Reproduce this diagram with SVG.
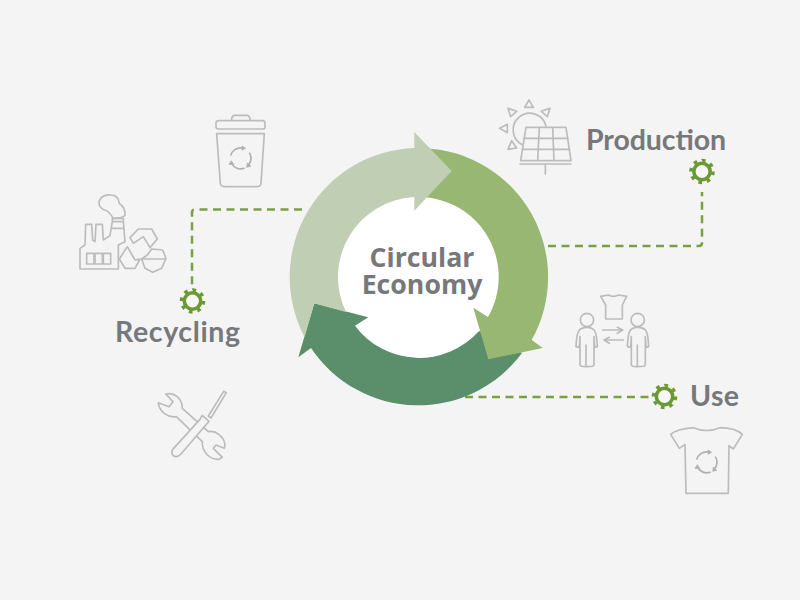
<svg xmlns="http://www.w3.org/2000/svg" xmlns:xlink="http://www.w3.org/1999/xlink" width="800" height="600" viewBox="0 0 800 600">
<style>
.lbl{font-family:"Lato","Open Sans","Liberation Sans",sans-serif;font-weight:700;font-size:28.500px;fill:#77787b}
.ctr{font-family:"Open Sans","Liberation Sans",sans-serif;font-weight:700;font-size:26.700px;fill:#77787b;text-anchor:middle}
.dash{fill:none;stroke:#7a9f45;stroke-width:2.5;stroke-dasharray:8 5.5}
.ic{fill:none;stroke:#bcbcbc;stroke-width:5;stroke-linejoin:round;stroke-linecap:round}
.ic2{fill:#f4f4f4;stroke:#bcbcbc;stroke-width:5;stroke-linejoin:round;stroke-linecap:round}
</style>
<defs>
<g id="gear">
<circle r="8.2" fill="#f6f6f4" stroke="#6b9a35" stroke-width="3.6"/>
<circle r="11" fill="none" stroke="#6b9a35" stroke-width="3.6" pathLength="8" stroke-dasharray="0.42 0.58"/>
</g>
<g id="rec" fill="none" stroke="#b0b0b0" stroke-width="5">
<path d="M-30 -8A31 31 0 0 1 4 -31M26 -17A31 31 0 0 1 22 22M12 29A31 31 0 0 1 -28 14"/>
<path d="M4 -37L15 -30L4 -24ZM31 24L18 27L20 14ZM-35 18L-28 7L-20 19Z" fill="#b0b0b0" stroke-width="2"/>
</g>
</defs>
<rect width="800" height="600" fill="#f4f4f4"/>
<g id="connectors">
<path class="dash" d="M302 209.5H195Q192 209.5 192 212.500V287"/>
<path class="dash" d="M548 246H699Q702 246 702 243V192"/>
<path class="dash" d="M465 397H651"/>
</g>
<g id="cycle">
<circle id="hub" cx="418.500" cy="277" r="85" fill="#ffffff"/>
<path id="arrow-use" fill="#5b8f6b" d="M522 353L505 345L479 331A80 80 0 0 1 355 325.700L368.300 317.300L314.300 303.300L298.300 357.300L311 348A129 129 0 0 0 522 353Z"/>
<path id="arrow-production" fill="#97b772" d="M425 148.200A129 129 0 0 1 531.700 340L542.700 348L488.300 359.300L473.300 307.700L488 317A80 80 0 0 0 425 197.300Z"/>
<path id="arrow-recycling" fill="#c0ceb3" d="M304.500 337A129 129 0 0 1 414.300 148.100V132L451.700 171L414.300 210.700V197.100A80 80 0 0 0 346 312L314.300 303.300Z"/>
<text class="ctr"><tspan x="422" y="266.500">Circular</tspan><tspan x="422" y="293.500">Economy</tspan></text>
</g>
<g id="node-production">
<text class="lbl" x="586" y="150" textLength="140" lengthAdjust="spacing">Production</text>
<use xlink:href="#gear" href="#gear" x="702" y="171.500"/>
<g transform="translate(490 90) scale(.3333)">
<path class="ic" d="M98 165A50 50 0 1 1 168 108"/>
<path class="ic" d="M117 30L130 52H104ZM54 55L80 64L62 80ZM180 55L172 80L154 64ZM29 115L52 103V128ZM65 152L80 174L54 178Z"/>
<path class="ic" d="M108 112H228L243 212H92ZM148 112L143 212M188 112L192 212M101 145H234M96 178H239M90 222H243M166 222V252"/>
</g>
</g>
<g id="node-use">
<text class="lbl" x="690" y="406" textLength="49" lengthAdjust="spacing">Use</text>
<use xlink:href="#gear" href="#gear" x="664.500" y="396.500"/>
<g transform="translate(560 285) scale(.3333)">
<path class="ic" d="M122 34L145 30Q160 38 176 30L200 34L187 60V102H137V60Z"/>
<circle class="ic" cx="81" cy="105" r="20"/>
<circle class="ic" cx="233" cy="105" r="20"/>
<path class="ic" d="M81 127C55 127 50 140 48 185L58 187L60 155V240Q60 245 78 245V180V245Q102 245 102 240V155L104 187L112 185C110 140 105 127 81 127Z"/>
<path class="ic" d="M233 127C207 127 205 140 202 185L212 187L214 155V240Q214 245 232 245V180V245Q256 245 256 240V155L258 187L266 185C264 140 260 127 233 127Z"/>
<path class="ic" d="M128 135H186M172 127L188 135L172 145M190 165H132M148 157L132 165L148 175"/>
<path class="ic" d="M332 448Q350 432 400 428Q440 445 480 428Q525 428 547 448L520 492L507 482L505 625H378L375 478L358 490Z"/>
<use xlink:href="#rec" href="#rec" transform="translate(440 532)"/>
</g>
</g>
<g id="node-recycling">
<text class="lbl" x="115" y="342" textLength="125" lengthAdjust="spacing">Recycling</text>
<use xlink:href="#gear" href="#gear" x="192.500" y="301"/>
<g transform="translate(70 105) scale(.3333)">
<path class="ic" d="M485 45Q485 31 495 31H530Q540 31 540 45M446 47H578Q585 47 585 55V65Q585 72 578 72H446Q438 72 438 65V55Q438 47 446 47ZM440 86H583L573 235Q572 245 560 245H465Q452 245 451 235Z"/>
<use xlink:href="#rec" href="#rec" transform="translate(512 160)"/>
<path class="ic" d="M30 492V430L45 420L47 358H65L68 405L75 410L78 358H97L100 405L120 392L127 350H160L165 410L145 420V492ZM30 492H145M50 445H72V477H50ZM75 445H97V477H75ZM100 445H122V477H100ZM127 350V340H160V350M125 370H162"/>
<path class="ic" d="M112 318Q85 312 87 290Q95 268 122 270Q145 270 148 295Q168 310 165 332Q150 342 130 340Q125 330 112 318Z"/>
<path class="ic" d="M180 398L205 372L245 372L262 402L240 428L220 395L190 415ZM172 425L195 465L210 462L195 490H165L148 462ZM232 450L245 432L278 435L288 460L275 490L248 502L225 490L215 462Z M218 462H285"/>
</g>
</g>
<g id="tools">
<g transform="translate(145 380) scale(.3333)">
<path class="ic" d="M62 42C88 36 112 55 112 85L190 155C212 150 238 170 240 195L238 205L213 195L205 205L232 232L222 238C195 240 170 215 172 185L94 110C70 115 42 95 40 68L72 80L84 65Z"/>
<path class="ic2" d="M190 108L236 34L244 38L198 114Z"/>
<path class="ic2" d="M172 106L192 124L185 132L108 222Q95 236 84 226Q75 215 88 203L165 118Z"/>
</g>
</g>
</svg>
